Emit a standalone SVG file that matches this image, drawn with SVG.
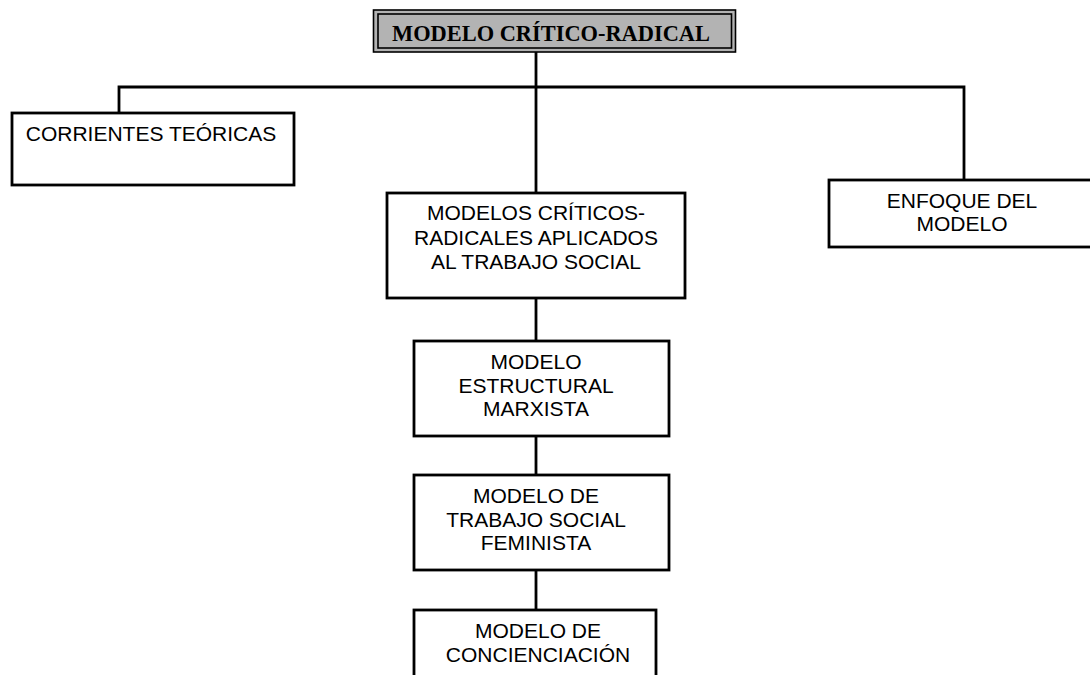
<svg xmlns="http://www.w3.org/2000/svg" width="1090" height="675" viewBox="0 0 1090 675">
  <style>
    .box { fill: #ffffff; stroke: #000000; stroke-width: 2.8; }
    .wire { fill: none; stroke: #000000; stroke-width: 2.8; }
    .lbl { font-family: "Liberation Sans", Arial, sans-serif; font-size: 21px; fill: #000000; text-anchor: middle; }
    .title { font-family: "Liberation Serif", "Times New Roman", serif; font-size: 22.5px; font-weight: bold; fill: #000000; text-anchor: middle; }
  </style>
  <rect x="0" y="0" width="1090" height="675" fill="#ffffff"/>

  <!-- connectors -->
  <g id="connectors">
    <path class="wire" d="M536 52 V87"/>
    <path class="wire" d="M119 113 V87 H964 V180"/>
    <path class="wire" d="M536 87 V193"/>
    <path class="wire" d="M536 298 V341"/>
    <path class="wire" d="M536 436 V475"/>
    <path class="wire" d="M536 570 V610"/>
  </g>

  <!-- root title with double frame -->
  <g id="root">
    <rect x="373.5" y="10" width="362" height="42" fill="#b3b3b3" stroke="#000000" stroke-width="1.6"/>
    <rect x="378" y="14" width="353.5" height="34" fill="#b3b3b3" stroke="#000000" stroke-width="1.6"/>
    <text class="title" x="551" y="41" textLength="318" lengthAdjust="spacingAndGlyphs">MODELO CRÍTICO-RADICAL</text>
  </g>

  <g id="corrientes">
    <rect class="box" x="12" y="113" width="282" height="72"/>
    <text class="lbl" x="151" y="141">CORRIENTES TEÓRICAS</text>
  </g>

  <g id="aplicados">
    <rect class="box" x="387" y="193" width="298" height="105"/>
    <text class="lbl" x="536" y="220">MODELOS CRÍTICOS-</text>
    <text class="lbl" x="536" y="245">RADICALES APLICADOS</text>
    <text class="lbl" x="536" y="269">AL TRABAJO SOCIAL</text>
  </g>

  <g id="enfoque">
    <rect class="box" x="829" y="180" width="267" height="67"/>
    <text class="lbl" x="962" y="208">ENFOQUE DEL</text>
    <text class="lbl" x="962" y="231">MODELO</text>
  </g>

  <g id="marxista">
    <rect class="box" x="414" y="341" width="255" height="95"/>
    <text class="lbl" x="536" y="369">MODELO</text>
    <text class="lbl" x="536" y="393">ESTRUCTURAL</text>
    <text class="lbl" x="536" y="416">MARXISTA</text>
  </g>

  <g id="feminista">
    <rect class="box" x="414" y="475" width="255" height="95"/>
    <text class="lbl" x="536" y="503">MODELO DE</text>
    <text class="lbl" x="536" y="527">TRABAJO SOCIAL</text>
    <text class="lbl" x="536" y="550">FEMINISTA</text>
  </g>

  <g id="concienciacion">
    <rect class="box" x="414" y="610" width="242" height="80"/>
    <text class="lbl" x="538" y="638">MODELO DE</text>
    <text class="lbl" x="538" y="662">CONCIENCIACIÓN</text>
  </g>
</svg>
